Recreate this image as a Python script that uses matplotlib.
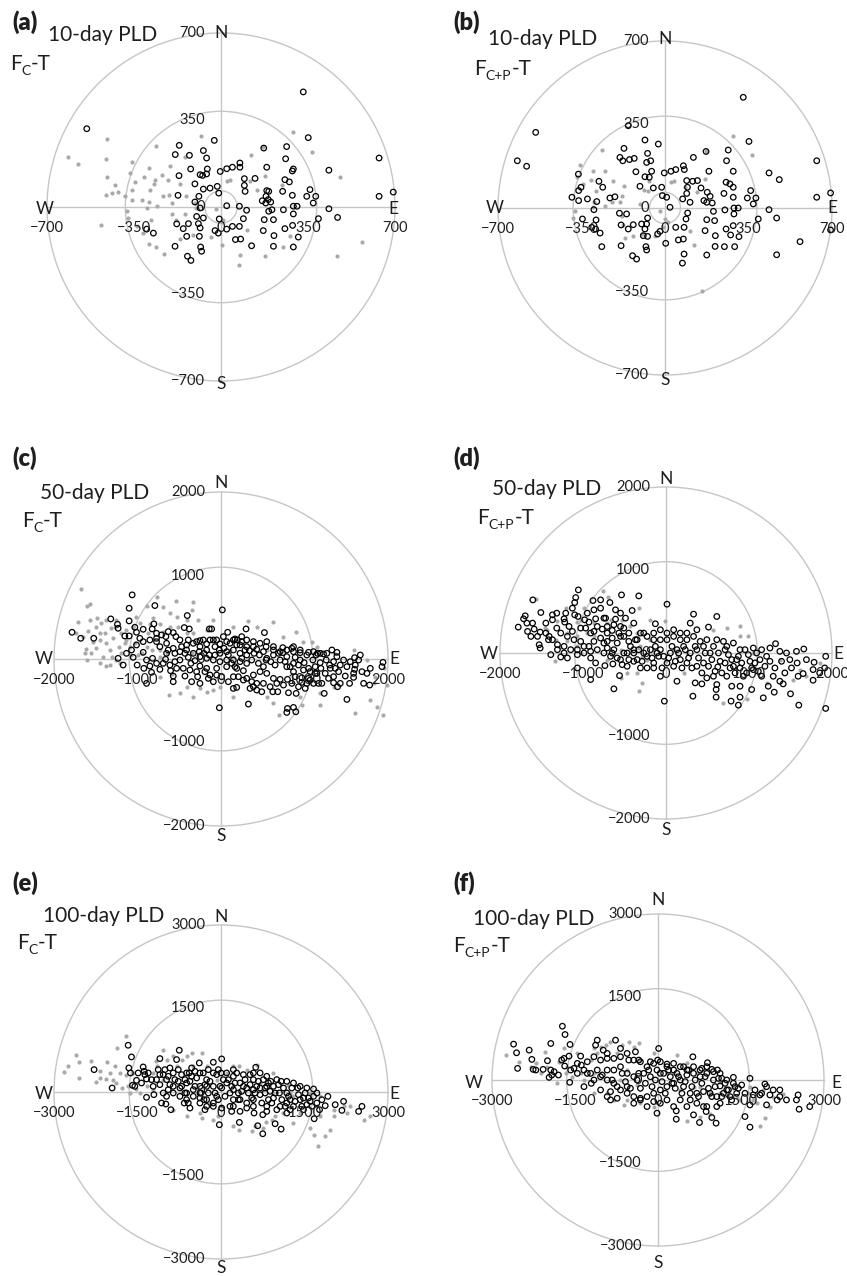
import matplotlib
matplotlib.use("Agg")
import matplotlib.pyplot as plt
from matplotlib.patches import Circle
from matplotlib.transforms import offset_copy

W, H = 847, 1276
FONT = ["Lato", "DejaVu Sans"]
plt.rcParams['font.family'] = FONT

# ---------------- data (x = east, y = north) ----------------
# (a) 10-day PLD, F_C-T
a_open_x = [331,-540,351,-27,-168,264,172,-184,-127,-71,-58,260,636,291,287,-55,-122,76,76,46,23,-3,-84,-74,-58,184,-169,94,137,434,257,275,-105,-15,-44,-71,94,97,184,192,181,248,287,358,345,381,636,693,-173,-9,-89,166,190,200,180,371,-105,23,-84,74,103,192,205,251,291,306,434,291,392,469,90,-7,-98,-71,-91,-131,-178,-152,174,211,257,288,311,23,46,74,-24,-11,-84,-87,-138,-272,-299,170,213,58,79,123,211,291,-185,-82,-78,-135,-121]
a_open_y = [463,315,279,268,248,243,237,211,208,227,197,194,197,153,145,153,153,177,160,160,154,143,130,127,133,160,126,114,115,148,110,101,93,83,76,72,87,63,66,63,43,63,47,70,43,43,43,60,47,56,43,25,30,20,16,16,20,5,-4,3,-13,-17,-11,-11,3,3,-7,-28,-47,-42,-47,-48,-38,-44,-67,-67,-68,-87,-51,-51,-87,-74,-121,-89,-78,-78,-95,-105,-84,-118,-118,-105,-89,-95,-115,-131,-129,-156,-158,-161,-158,-161,-178,-198,-215]
a_fill_x = [-614,-574,-460,-464,-357,-366,-460,-426,-437,-413,-464,-346,-359,-386,-357,-319,-288,-299,-259,-232,-209,-198,-196,-182,-145,-145,-261,-290,-308,-266,-270,-286,-236,-205,-212,-165,-141,-105,-101,-380,-375,-339,-282,-312,-290,-263,-229,-165,-111,-40,3,3,-20,-80,23,36,117,143,121,170,288,365,479,103,76,72,177,251,278,569,465,-483,177,244,9]
a_fill_y = [200,173,274,193,180,137,119,90,56,59,47,99,70,43,27,30,20,-4,3,43,50,16,-28,-51,-27,201,244,157,119,110,93,67,130,164,110,93,43,16,-4,-17,-44,-78,-51,-105,-148,-161,-188,-127,-114,-121,-152,-62,-8,284,103,110,103,67,211,240,302,221,119,-91,-192,-232,-198,-161,-115,-142,-196,-71,123,90,-51]

# (b) 10-day PLD, F_C+P-T
b_open_x = [328,-542,-619,-580,-154,-84,-28,-172,-189,-177,-149,-129,-73,-77,-60,-122,-56,-84,-66,-105,-49,-14,-3,25,45,77,81,119,172,184,265,258,286,352,636,436,479,256,272,91,116,136,94,91,151,177,189,175,198,163,247,286,359,381,345,370,286,636,694,74,105,-11,7,21,95,88,203,208,175,251,289,307,436,391,468,289,256,286,275,310,168,211,175,210,249,292,566,694,468,45,80,77,56,80,73,-21,-31,3,-73,-77,-98,-133,-154,-184,-191,-161,-84,-73,-91,-80,-77,-136,-119,-184,-265,-272,-291,-289,-346,-231,-210,-261,-277,-325,-362,-390,-362,-352,-363,-286,-298,-307]
b_open_y = [464,317,198,175,345,285,268,250,212,198,203,208,229,191,198,152,154,131,129,91,84,87,147,154,161,177,161,212,237,154,243,198,154,279,198,147,119,108,101,115,112,115,87,61,84,66,49,24,21,31,61,87,73,42,42,17,45,45,63,38,24,52,45,3,-21,-46,-14,-53,-49,-8,0,0,-7,-46,-42,-25,-88,-74,-113,-120,-95,-116,-197,-161,-162,-162,-141,-92,-196,-81,-81,-130,-134,-193,-231,-98,-109,-148,-42,-67,-67,-70,-88,-71,-22,-25,-88,-119,-116,-162,-176,-200,-214,-158,-162,-105,-88,-50,-46,42,47,87,112,38,31,45,73,87,142,27,-7,-81]
b_fill_x = [-265,-356,-370,-342,-310,-289,-251,-300,-217,-170,-179,-189,-221,-251,-303,-377,-384,-298,-182,-177,-168,-133,-98,-42,-21,0,11,-7,25,39,84,136,168,172,286,363,105,122,154,-105,-70,-88,-66]
b_fill_y = [244,180,129,101,119,73,156,156,115,94,52,24,24,7,3,-11,-42,24,-32,-70,-126,-116,-109,-116,-11,-46,-57,-78,108,112,87,68,122,240,300,222,-95,-155,-346,17,73,75,115]

# (c) 50-day PLD, F_C-T
c_open_x = [-1064,-1100,-792,-1320,-1100,-1784,-1680,-1524,-1240,-1232,-1032,-1012,-1152,-1100,-972,-932,-824,-804,-772,-712,-660,-632,-572,-540,-440,-380,-404,-140,-112,16,80,300,520,248,168,388,428,540,628,740,848,868,948,1048,1156,1228,1328,1388,1388,1600,1668,1648,1940,1788,1600,1508,1488,1588,1708,1780,1508,1428,1348,1236,1208,1128,1048,1028,968,900,808,868,796,788,896,680,620,488,428,348,328,148,188,-20,-252,-352,-572,-92,-152,-280,-432,-572,-604,-732,-832,-892,-1004,-1172,-932,-892,-820,-664,-552,-492,-360,-252,-172,-52,68,168,268,388,468,548,628,708,796,888,968,1068,1148,1248,1308,1408,1348,1188,1128,948,868,788,708,628,548,448,368,308,228,148,68,-12,-72,-172,-252,-332,-412,-472,-552,-632,-732,-772,-652,-492,-392,-292,-212,-132,-52,28,108,188,308,-252,-172,-92,-12,68,148,228,308,508,788,868,988,1068,1348,1748,1928]
c_open_y = [768,608,640,480,456,320,248,248,416,368,380,320,276,276,248,356,360,420,308,288,268,328,316,268,376,360,520,360,360,588,320,360,316,208,240,208,116,148,148,136,128,88,76,80,68,60,108,80,28,16,48,-12,-40,-112,-124,-92,-204,-220,-292,-312,-484,-292,-284,-412,-292,-172,-232,-292,-280,-412,-404,-580,-592,-640,-632,-392,-392,-392,-372,-352,-540,-352,-340,-584,-292,-272,-272,-272,-232,-212,-204,-204,-140,-124,-160,-292,-72,-72,80,-12,8,-4,-32,-12,-52,-84,-112,-112,-92,-92,-140,-192,-152,-172,-232,-244,-244,-212,-224,-252,-172,-172,-112,-152,-32,-44,-92,-12,-52,28,-12,48,8,-52,-12,48,68,108,88,68,148,108,148,68,108,148,68,108,148,208,188,228,228,208,228,228,228,268,188,168,148,28,8,-12,-32,-12,-12,-32,-52,-92,-92,-152,-132,-152,-212,-172,-92]
c_open2_x = [-432,-392,-312,-260,-204,-140,-72,-20,36,88,128,188,248,196,248,288,340,396,460,508,540,596,648,688,740,768,828,888,928,996,1048,1100,1140,1196,1260,1300,1368,1428,1468,1548,1608,1688,1588,1540,1396,1288,1168,1108,1008,928,848,748,668,588,508,428,388,268,208,148,88,8,-52,-132,-192,-292,-372,-452,-532,-612,-692,-772,-852,-924,-652,-572,-492,-412,-332,-252,-172,-92,-12,68,148,228,308,388,468,548,628,708,788,868,948,1028,1108,1188,1268,-772,-852,-932,-1012,-1072,-1132,-1052,-1232,308,368]
c_open2_y = [68,20,-20,88,68,48,48,108,128,48,-52,-112,8,228,268,108,100,68,48,88,-12,-32,-72,68,76,-32,-92,20,-72,-44,-112,-12,48,-112,-12,-72,-112,-72,-12,-32,-72,-152,-172,-292,-332,-232,-292,-292,-352,-332,-292,-312,-292,-332,-292,-292,-332,-252,-212,-212,-272,-212,-192,-192,-152,-152,-132,-112,-112,-72,-52,-52,-84,-112,68,128,88,168,188,220,180,228,180,208,228,168,228,148,188,208,108,88,108,148,108,48,88,68,68,248,228,208,168,108,68,20,8,-232,-272]
c_fill_x = [-1672,-1604,-1564,-1712,-1484,-1432,-1592,-1532,-1612,-1492,-1392,-1372,-1292,-1412,-1300,-1380,-1604,-1192,-1072,-1092,-1224,-1152,-1032,-892,-772,-540,-340,-700,-612,-852,-820,-732,-692,-1012,-952,-832,-732,-652,-592,-620,-332,-252,-172,-12,328,620,896,988,1088,1068,1180,1608,1940,1848,1988,1948,700,628,976,-52,108,148,-352,-332,-412,548,-172,-512,-1052,-1132,-1272,-1332,-1452,-1252,1348,1788]
c_fill_y = [836,640,656,440,488,428,340,208,116,128,308,188,248,28,28,-84,-12,68,48,148,148,188,188,640,748,700,688,620,548,420,488,420,328,508,68,108,28,68,-180,-432,-460,-352,-392,-332,460,440,328,208,208,-272,-552,-644,-672,-212,-312,-112,-672,-532,-552,68,108,28,68,308,468,108,348,388,388,348,388,108,-52,-12,-332,-492]
c_fill2_x = [-1732,-1652,-1572,-1452,-1492,-1372,-1312,-1252,-1192,-1132,-1452,-1632,-1552,-1332,-1212,-992,-892,-732,-972,-872,-612,-532,-412,-272,-352,-92,148,428,748,1148,1348,1588,1748,1828,1188,948,548,148,-92,-412,-492,-732,1868]
c_fill2_y = [308,268,468,308,388,468,368,468,308,228,228,68,68,-72,-52,48,148,108,428,308,388,508,308,468,588,468,388,388,268,148,68,108,-12,-292,-412,-452,-452,-452,-372,-332,-412,-212,-572]

# (d) 50-day PLD, F_C+P-T
d_open_x = [-1604,-1088,-1100,-1056,-880,-788,-676,-536,-328,12,-408,-728,-1508,-1316,-1696,-1716,-1780,-1676,-1668,-1588,-1516,-1408,-1416,-1528,-1516,-1308,-1388,-1268,-1188,-1316,-1228,-1220,-1100,-1060,-980,-928,-848,-748,-608,-968,-868,-768,-708,-648,-548,-388,-448,-548,-588,-708,-788,-868,-928,-1028,-1108,-1188,-1228,-1068,-988,-908,-848,-736,-640,-560,-628,-1068,-908,-388,-308,-148,-68,-20,132,324,352,432,612,604,604,792,892,784,872,892,1032,1172,1232,1304,1412,1500,1600,1924,1772,1912,1924,1772,1784,1652,1592,1580,1572,1660,1492,1372,1320,1252,1212,1132,1052,1292,1372,1152,972,892,812,712,624,572,492,732,632,712,792,872,952,1012,1152,612,512,332,372,292,252,172,92,12,-68,-148,-128,-268,-348,-428,-508,-548,-468,-348,-228,-108,-28,52,132,212,292,372,452,532,612,692,812,172,252,372,452,92,12,-148,-268,-188,-748,-668,-628,-468,-388,-68]
d_open_y = [640,668,608,760,632,640,608,700,688,588,512,420,488,480,448,412,312,360,260,288,252,200,160,100,60,100,-20,-48,-60,300,412,372,460,440,400,372,412,420,408,300,260,288,240,272,320,360,240,200,120,140,180,140,80,140,160,200,80,40,0,-60,-120,-152,-132,-272,-432,-180,-320,-100,-180,-180,-280,-580,-340,-520,-360,-372,-380,-440,-532,-400,-400,-580,-628,-532,-440,-540,-400,-472,-372,-492,-628,-668,-328,-180,-40,-200,-112,-248,-280,-120,20,48,-80,20,112,60,-40,-80,-200,-280,-340,-280,-240,-180,-160,-120,-168,-280,-300,-280,0,40,-80,-40,40,-100,40,440,312,468,280,360,240,160,200,160,160,240,352,240,160,80,0,-80,-160,-80,-40,0,-40,0,40,80,0,40,80,0,160,140,120,-80,-120,-160,-120,-160,-120,-120,0,40,0,-40,40,0,40,40]
d_open2_x = [-708,-648,-588,-528,-448,-388,-328,-288,-228,-168,-128,-88,-48,32,72,112,152,192,232,272,312,352,392,432,472,512,552,592,652,672,752,772,832,852,912,932,992,1032,1072,1112,1192,1252,1312,1392,1432,1512,1692,1852,1452,1092,1052,892,732,572,492,412,332,252,172,92,12,-68,-148,-228,-308,-368,-448,-508,-568,-648,-748,-828,-908,-988,-1068,-1148,-1228,-1308,-1368,-1448,-1548,-1628,-1608,-1448,-1368,-1268,-1168,-1128,-1028,-908,-828,-708,-628,-488,-508,-948,-868,-788,-608,-548,-1128,-1208,-1368]
d_open2_y = [60,0,-60,-140,-80,0,40,-100,-180,-60,80,-40,-180,-60,80,-100,0,-180,40,-60,-180,80,-60,-240,0,-160,-80,-220,-100,-240,-20,-180,-240,-80,-120,-280,-20,-180,-120,-220,-160,-100,-180,-100,-240,-180,-80,-240,0,0,60,40,80,80,160,140,200,160,240,280,240,280,160,200,240,160,140,200,240,180,120,40,20,80,-20,40,0,40,160,240,200,200,360,360,400,240,320,260,300,240,320,320,340,420,300,480,520,540,520,480,540,480,460]
d_fill_x = [-1568,-760,-696,-988,-1200,-1308,-1068,-1428,-1328,-1280,-1336,-948,-868,-708,-528,-328,-428,-328,-288,-308,-348,-328,-548,-288,-8,0,132,572,732,892,992,692,972,1212,1612,1852,1532,-188,-148,-548,-1068,-1188,-1028]
d_fill_y = [652,752,680,548,540,388,372,280,160,72,-100,240,200,360,400,540,320,60,-48,80,-240,-460,-300,-360,380,-100,-40,280,300,320,200,-600,-560,-360,-200,-120,-320,160,40,40,80,240,400]
d_fill2_x = [-1460,-1188,-1068,-868,-1028,-708,-468,-228,-68,92,212,252,892,1052,1372,1692,-188,-668,-348]
d_fill2_y = [300,140,200,360,0,-80,-240,-80,0,40,-240,0,200,0,-80,-280,400,400,240]

# (e) 100-day PLD, F_C-T
e_open_x = [-1668,-1608,-2280,-1956,-1656,-1626,-1590,-1518,-1398,-1380,-1368,-1338,-1338,-1206,-1098,-1068,-990,-900,-858,-918,-948,-1038,-1158,-1218,-1128,-1008,-918,-858,-798,-750,-768,-708,-708,-648,-588,-558,-660,-738,-528,-570,-468,-390,-378,-360,-288,-306,-228,-138,-138,-138,-48,12,0,42,-18,-78,-30,162,192,222,282,162,192,330,342,462,492,522,624,582,642,582,594,660,750,750,822,852,762,792,894,972,1080,1080,942,1050,1122,1182,1182,1242,1302,1380,1422,1482,1542,1482,1602,1662,1662,1770,1872,1920,2052,2172,2202,2472,2532,1674,882,702,402,312,-258,-378,-498,-618,-858,-978,-258,-438,102,222,342,462,582,702,822,942,1062,1242,-258,-138,-378,-618,-768,222,342]
e_open_y = [840,630,402,72,432,342,120,210,450,372,312,234,-96,-48,600,-198,-216,-318,-18,132,282,312,222,102,402,402,432,342,582,750,402,312,102,-18,-198,-288,-198,-78,432,342,372,522,342,-18,-318,-138,-18,102,342,534,402,594,342,222,102,-78,-588,-18,102,282,342,-258,-348,-546,-348,-198,-18,312,444,222,102,-138,-378,-606,-750,-408,-258,-138,222,-18,192,-570,192,-666,102,-18,72,-18,-198,-138,-258,72,-138,-108,-228,-318,-168,-78,54,-318,-246,-78,-228,-330,-168,-348,-258,-480,12,-48,102,-18,102,102,42,162,102,-78,222,252,162,42,162,72,42,72,102,-108,-258,-318,-138,-198,-198,-18,192,-138,-138]
e_open2_x = [-558,-468,-378,-288,-198,-108,-48,12,72,132,252,312,372,432,522,552,612,672,732,792,852,912,972,1032,1092,1152,1212,1272,1332,1392,1452,1512,1572,1632,1722,1812,-648,-738,-828,-948,-1038,-1098,-1248,-1308,-1428,-1488,-1548,-1098,-978,-618,-528,-318,-228,-78,102,222,402,582,702,822,1002,1182,1302,1422,1542,1722,-378,-498,-138,12,-258,-618,222,462,582,822,1002,1182]
e_open2_y = [192,102,-18,132,192,-18,-138,72,-78,222,162,-138,12,222,132,-108,-18,192,-198,72,162,-198,-18,132,-138,-258,-78,72,-168,-48,-258,-18,-108,-258,-198,-138,222,72,222,42,-18,132,222,342,162,342,102,312,222,342,282,342,402,312,342,402,312,342,342,282,222,192,162,102,72,-18,-108,-78,-258,-288,-258,-138,-258,-288,-258,-348,-318,-378]
e_fill_x = [-1710,-1866,-2610,-2556,-2748,-2826,-2550,-2328,-2178,-2238,-2046,-2058,-1908,-1818,-1938,-1698,-1638,-1668,-1770,-1530,-1050,-1170,-858,-708,-528,-348,-498,-1218,-1038,-1218,-618,-348,-198,-48,330,552,612,762,810,912,972,330,642,942,1212,1242,1782,1674,1734,1872,1950,1602,1722,2262,2562,2322,2022,2682,1602,1302,342,-78,102,222]
e_fill_y = [1002,792,672,534,474,354,252,552,372,174,534,234,474,342,222,312,-18,102,72,60,750,564,642,582,702,702,462,342,222,42,-438,-468,-198,-438,-690,-708,-618,-648,-540,-498,-426,462,492,342,132,-18,-78,-768,-978,-798,-678,-648,-258,-378,-498,-258,-318,-438,-18,-78,-18,222,342,102]
e_fill2_x = [-2178,-1998,-1878,-1578,-1458,-1338,-1158,-978,-798,-618,-258,222,462,702,942,1122,1422,1302,1782,2022,2202,222,-138,-378,-858]
e_fill2_y = [252,342,162,342,-18,102,462,582,462,642,462,462,402,162,-18,-378,-378,-558,-438,-438,-258,-618,-498,-378,-318]

# (f) 100-day PLD, F_C+P-T
f_open_x = [-1728,-1680,-1938,-2610,-2556,-2328,-2538,-2280,-2256,-2208,-2076,-1998,-1938,-1920,-1968,-1878,-1800,-1740,-1698,-1590,-1608,-1686,-1518,-1596,-1398,-1386,-1338,-1338,-1206,-1218,-1098,-1128,-990,-918,-768,-678,-528,-408,-348,-138,12,-6,162,282,462,630,894,972,792,1074,1152,1362,1662,1932,2202,2532,2502,2550,2742,2322,2154,2022,1842,1722,1662,1572,1662,1962,1512,1392,1242,1122,1002,882,762,642,522,402,282,162,42,-78,-198,-318,-438,-558,-678,-798,-918,-1038,-1158,-918,-738,-558,-378,-258,-138,-18,102,222,342,462,582,702,822,942,1062,1182,1302,1422,582,702,822,750,870,972,1050,330,330,-18,642,1062,162,-78,-318,-858,-1038,282]
f_open_y = [972,822,660,648,492,540,210,372,192,180,192,348,180,90,48,150,90,360,390,642,432,252,210,-42,432,270,180,-120,-60,120,720,630,540,390,720,570,360,510,360,330,570,360,288,180,240,420,312,192,210,180,30,48,30,-72,-180,-270,-360,-528,-480,-360,-360,-270,-270,-270,-450,-660,-852,-450,-90,-120,-180,-108,0,120,60,120,90,0,-60,-120,-180,-240,-300,-330,-300,-240,-180,-60,0,60,0,-300,-330,-120,0,120,60,180,120,60,120,-120,-240,-240,-210,-240,-300,-240,-300,-240,-360,-420,-480,-768,-570,-678,-780,-708,-558,-600,-630,-480,-360,-390,-360,-210,-180,-480]
f_open2_x = [-1098,-1008,-918,-828,-738,-648,-588,-498,-438,-348,-318,-228,-168,-108,-48,42,72,132,192,252,312,372,432,492,552,612,672,732,792,852,912,972,1032,1092,1152,1212,1272,1332,1452,1572,1752,1872,1962,2082,2202,-1278,-1458,-1578,-1458,-1278,-1158,-1038,-918,-798,-678,-558,-438,-318,-198,-78,42,162,282,402,522,642,762,882,1002,1122,1242,1362,-678,-798,-558,-858,-438,-198,42,402,522,882,1122]
f_open2_y = [180,90,180,0,-120,120,-30,-150,60,120,-150,-60,180,-120,0,120,-30,-240,180,-60,-150,60,-240,-30,180,-120,0,-300,-60,60,-150,-300,-120,30,-300,-60,-180,-360,-150,-240,-180,-240,-120,-180,-300,120,120,180,300,330,420,360,480,390,420,480,360,330,240,300,330,240,300,240,180,240,180,240,150,120,0,-60,240,180,120,-360,-420,-480,-420,-360,-480,-480,-420]
f_fill_x = [-2748,-2508,-2208,-2046,-1698,-1788,-1818,-1668,-1548,-1458,-1218,-1158,-1098,-948,-870,-648,-528,-348,-318,-558,-678,-378,-318,-618,-798,342,522,162,402,702,762,1122,1362,1662,1782,1902,2082,1842,1932,2262,522,762,942,1482,1632,-1158,-1338]
f_fill_y = [450,330,300,510,570,330,-60,120,60,480,360,570,480,630,690,630,690,672,360,180,0,-90,-420,-450,-360,450,300,120,-180,120,-120,-30,-150,-120,-420,-180,-300,-828,-690,-252,-732,-660,-612,-360,-240,120,0]
f_fill2_x = [-2298,-2118,-1998,-1638,-1398,-1038,-738,-438,-78,282,642,942,1422,1722,2022,-918,-1158,-558,-78,1122]
f_fill2_y = [240,120,240,240,120,600,480,600,480,120,-120,-240,-300,-360,-480,-240,-240,-360,-480,-240]

# ---------------- panel layout ----------------
panels = [
    dict(letter="(a)", title="10-day PLD", sub="C", R=700,
         cx=221, cy=207, rp=174, ox=a_open_x, oy=a_open_y, fx=a_fill_x, fy=a_fill_y,
         inner=True, lp=(12, 30), tp=(48, 41), sp=(10, 70),
         N=(0, 0), S=(0, 3), Wl=(-2, 2), E=(-2, 2)),
    dict(letter="(b)", title="10-day PLD", sub="C+P", R=700,
         cx=665, cy=208, rp=167, ox=b_open_x, oy=b_open_y, fx=b_fill_x, fy=b_fill_y,
         inner=True, lp=(453, 30), tp=(488, 45), sp=(474, 75),
         N=(0, -2), S=(0, 5), Wl=(-3, 0), E=(0, 0)),
    dict(letter="(c)", title="50-day PLD", sub="C", R=2000,
         cx=221, cy=659, rp=167, ox=c_open_x + c_open2_x, oy=c_open_y + c_open2_y,
         fx=c_fill_x + c_fill2_x, fy=c_fill_y + c_fill2_y,
         inner=False, lp=(12, 466), tp=(40, 499), sp=(22, 527),
         N=(0, -9), S=(0, 10), Wl=(-10, 0), E=(6, 0)),
    dict(letter="(d)", title="50-day PLD", sub="C+P", R=2000,
         cx=666, cy=653, rp=166, ox=d_open_x + d_open2_x, oy=d_open_y + d_open2_y,
         fx=d_fill_x + d_fill2_x, fy=d_fill_y + d_fill2_y,
         inner=False, lp=(453, 466), tp=(492, 495), sp=(477, 524),
         N=(0, -8), S=(0, 11), Wl=(-11, 1), E=(6, 1)),
    dict(letter="(e)", title="100-day PLD", sub="C", R=3000,
         cx=221, cy=1092, rp=167, ox=e_open_x + e_open2_x, oy=e_open_y + e_open2_y,
         fx=e_fill_x + e_fill2_x, fy=e_fill_y + e_fill2_y,
         inner=False, lp=(12, 891), tp=(43, 922), sp=(17, 949),
         N=(0, -8), S=(0, 9), Wl=(-10, 2), E=(6, 2)),
    dict(letter="(f)", title="100-day PLD", sub="C+P", R=3000,
         cx=658, cy=1080, rp=166, ox=f_open_x + f_open2_x, oy=f_open_y + f_open2_y,
         fx=f_fill_x + f_fill2_x, fy=f_fill_y + f_fill2_y,
         inner=False, lp=(453, 891), tp=(473, 925), sp=(453, 952),
         N=(0, -14), S=(0, 17), Wl=(-18, 3), E=(12, 3)),
]

GRID = "#c6c6c6"
GRAY = "#a9a9a9"
TXT = "#1e1e1e"
MINUS = "\u2212"

fig = plt.figure(figsize=(W / 100, H / 100), dpi=100)
renderer = fig.canvas.get_renderer()


def fmt(v):
    v = int(v)
    return (MINUS + str(-v)) if v < 0 else str(v)


def fx_(x):
    return x / W


def fy_(y):
    return 1 - y / H


def subtitle(x, y, sub):
    t1 = fig.text(fx_(x), fy_(y), "F", fontsize=15, va="baseline", ha="left", color=TXT)
    bb = t1.get_window_extent(renderer)
    t2 = fig.text(bb.x1 / W, fy_(y + 5), sub, fontsize=10, va="baseline", ha="left", color=TXT)
    bb2 = t2.get_window_extent(renderer)
    fig.text(bb2.x1 / W, fy_(y), "-T", fontsize=15, va="baseline", ha="left", color=TXT)


for p in panels:
    R, cx, cy, rp = p["R"], p["cx"], p["cy"], p["rp"]
    h = rp * 1.12
    ax = fig.add_axes([(cx - h) / W, 1 - (cy + h) / H, 2 * h / W, 2 * h / H])
    lim = R * h / rp
    ax.set_xlim(-lim, lim)
    ax.set_ylim(-lim, lim)
    ax.set_aspect("equal")
    ax.axis("off")
    ax.patch.set_alpha(0)
    for rr in ([R, 0.55 * R] + ([0.093 * R] if p["inner"] else [])):
        ax.add_patch(Circle((0, 0), rr, fill=False, ec=GRID, lw=1.0, zorder=1))
    ax.plot([-R, R], [0, 0], color=GRID, lw=1.0, zorder=1)
    ax.plot([0, 0], [-R, R], color=GRID, lw=1.0, zorder=1)

    ax.scatter(p["fx"], p["fy"], s=9, c=GRAY, linewidths=0, zorder=2)
    ax.scatter(p["ox"], p["oy"], s=16, facecolors="none", edgecolors="black",
               linewidths=0.9, zorder=3)

    ytr = offset_copy(ax.transData, fig=fig, x=-16, y=0, units="dots")
    xtr = offset_copy(ax.transData, fig=fig, x=0, y=-21, units="dots")
    for v in [R, R / 2, 0, -R / 2, -R]:
        ax.text(0, v, fmt(v), transform=ytr, ha="right", va="center",
                fontsize=10.5, color=TXT, zorder=4)
        ax.text(v, 0, fmt(v), transform=xtr, ha="center", va="center",
                fontsize=10.5, color=TXT, zorder=4)

    def comp(txt, x, y, off):
        tr = offset_copy(ax.transData, fig=fig, x=off[0], y=-off[1], units="dots")
        ax.text(x, y, txt, transform=tr, ha="center", va="center",
                fontsize=12.5, color=TXT, zorder=4)
    comp("N", 0, R, p["N"])
    comp("S", 0, -R, p["S"])
    comp("W", -R, 0, p["Wl"])
    comp("E", R, 0, p["E"])

    fig.text(fx_(p["lp"][0]), fy_(p["lp"][1]), p["letter"], fontsize=17,
             fontweight="heavy", va="baseline", ha="left", color=TXT)
    fig.text(fx_(p["tp"][0]), fy_(p["tp"][1]), p["title"], fontsize=15,
             va="baseline", ha="left", color=TXT)
    subtitle(p["sp"][0], p["sp"][1], p["sub"])

fig.savefig("out.png", dpi=100)
